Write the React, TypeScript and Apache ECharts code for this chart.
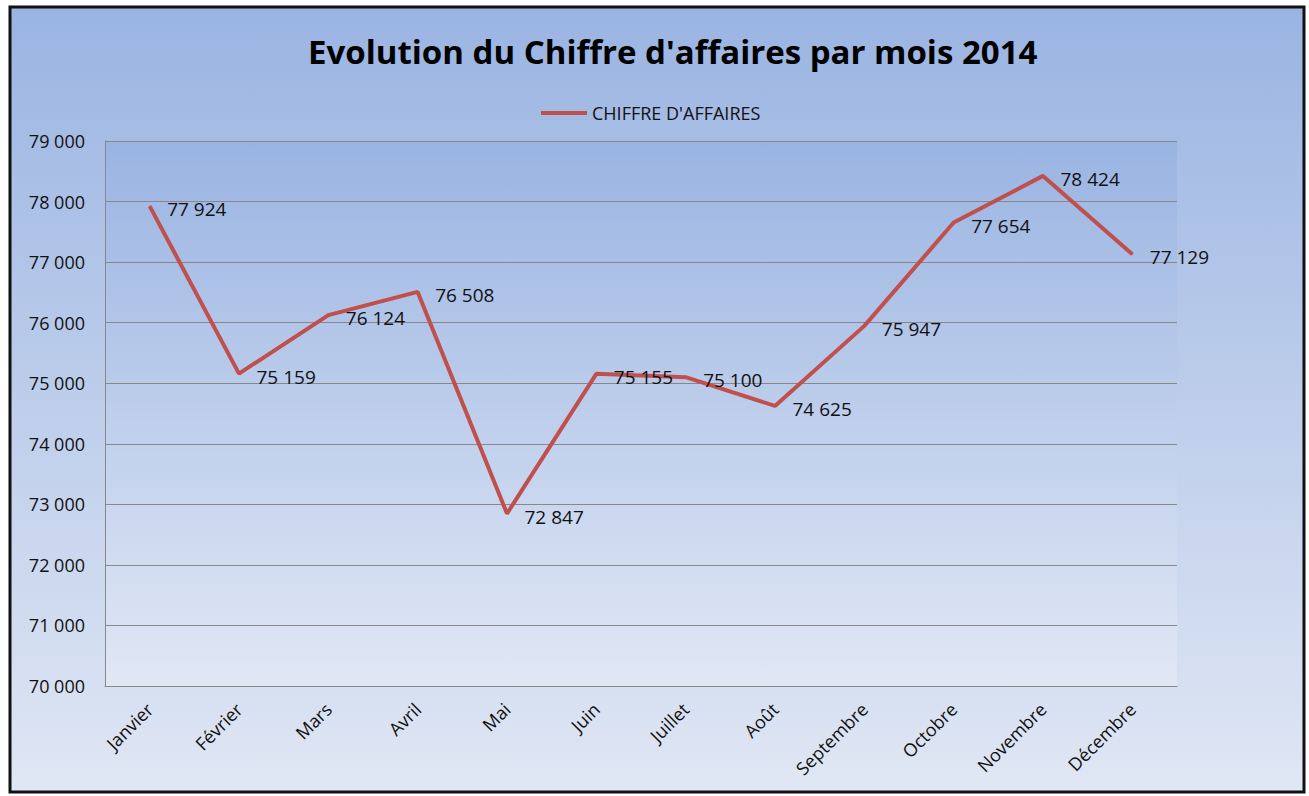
import React, { useEffect, useRef } from "react";
import * as echarts from "echarts";

const months = ["Janvier", "Février", "Mars", "Avril", "Mai", "Juin", "Juillet", "Août", "Septembre", "Octobre", "Novembre", "Décembre"];
const chiffre = [77924, 75159, 76124, 76508, 72847, 75155, 75100, 74625, 75947, 77654, 78424, 77129];
const seriesName = "CHIFFRE D'AFFAIRES";
const titleText = "Evolution du Chiffre d'affaires par mois 2014";

const fmt = (v: number) => String(Math.round(v)).replace(/\B(?=(\d{3})+(?!\d))/g, " ");
const FONT = "'Open Sans', Lato, sans-serif";

export default function App() {
  const ref = useRef<HTMLDivElement>(null);
  useEffect(() => {
    if (!ref.current) return;
    const chart = echarts.init(ref.current, null, { renderer: "svg" });
    chart.setOption({
      animation: false,
      backgroundColor: "#ffffff",
      graphic: [
        {
          type: "rect",
          z: -10,
          shape: { x: 10, y: 7, width: 1294, height: 785 },
          style: {
            fill: new echarts.graphic.LinearGradient(0, 0, 0, 1, [
              { offset: 0, color: "#9ab4e2" },
              { offset: 1, color: "#e0e7f4" },
            ]),
            stroke: "#111111",
            lineWidth: 3,
          },
          silent: true,
        },
      ],
      title: {
        text: titleText,
        left: 303,
        top: 30,
        textStyle: { fontFamily: FONT, fontWeight: "bold", fontSize: 33, color: "#000" },
      },
      legend: {
        data: [seriesName],
        top: 99,
        left: 536,
        icon: "rect",
        itemWidth: 46,
        itemHeight: 4,
        itemGap: 5,
        textStyle: { fontFamily: FONT, fontSize: 18, color: "#111" },
      },
      grid: {
        left: 105,
        top: 141,
        width: 1072,
        height: 545,
        show: true,
        borderWidth: 0,
        backgroundColor: new echarts.graphic.LinearGradient(0, 0, 0, 1, [
          { offset: 0, color: "#9ab4e2" },
          { offset: 1, color: "#e1e8f5" },
        ]),
      },
      xAxis: {
        type: "category",
        data: months,
        boundaryGap: true,
        axisLine: { show: true, lineStyle: { color: "#888888", width: 1 } },
        axisTick: { show: false },
        axisLabel: { rotate: 45, fontFamily: FONT, fontSize: 18, color: "#111", margin: 20 },
      },
      yAxis: {
        type: "value",
        min: 70000,
        max: 79000,
        interval: 1000,
        axisLine: { show: true, lineStyle: { color: "#888888", width: 1 } },
        axisTick: { show: false },
        splitLine: { show: true, lineStyle: { color: "#888888", width: 1 } },
        axisLabel: { formatter: (v: number) => fmt(v), fontFamily: FONT, fontSize: 18, color: "#111", margin: 20 },
      },
      series: [
        {
          name: seriesName,
          type: "line",
          data: chiffre,
          symbol: "circle",
          symbolSize: 1,
          showSymbol: true,
          lineStyle: { color: "#c0504d", width: 4 },
          itemStyle: { color: "#c0504d" },
          label: {
            show: true,
            position: "right",
            distance: 17,
            offset: [0, 3],
            formatter: (p: any) => fmt(p.value),
            fontFamily: FONT,
            fontSize: 19,
            color: "#111",
          },
        },
      ],
    });
    return () => chart.dispose();
  }, []);
  return <div ref={ref} style={{ position: "fixed", left: 0, top: 0, width: 1309, height: 796 }} />;
}
